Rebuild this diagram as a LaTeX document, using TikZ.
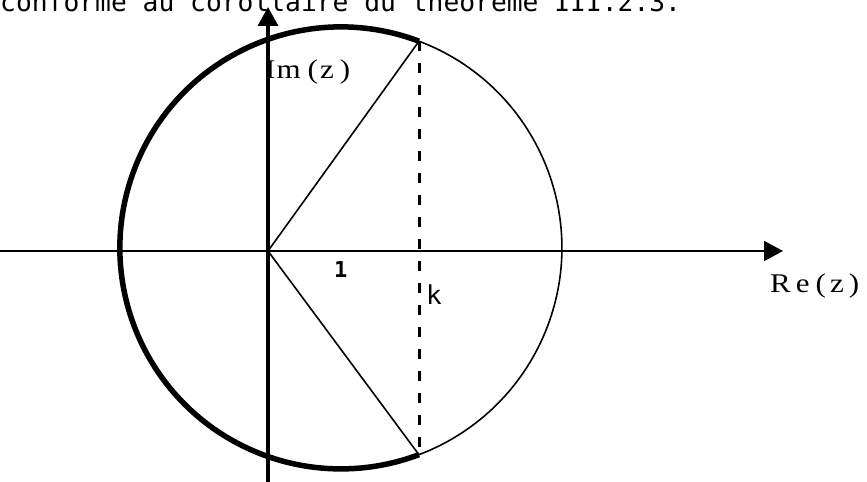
\documentclass[tikz,border=0pt]{standalone}
\usepackage{fontspec}
\usetikzlibrary{arrows.meta}
\newfontfamily\monofnt{DejaVu Sans Mono}
\newfontfamily\serfnt[FakeStretch=1.15]{Liberation Serif}
\begin{document}
\begin{tikzpicture}[x=1bp,y=-1bp,
  axis/.style={draw=black,-{Triangle[length=19bp,width=20bp]}},
  thinln/.style={draw=black,line width=1.6bp},
  thickarc/.style={draw=black,line width=5.5bp},
  dashline/.style={draw=black,line width=3bp,dash pattern=on 10bp off 12bp},
  lbl/.style={inner sep=0pt,anchor=base west}]
\useasboundingbox (0,0) rectangle (867,482);
\coordinate (O) at (268,251);
\coordinate (C) at (341,248);
\coordinate (P) at (419,41.2);
\coordinate (Q) at (419,454.8);
\coordinate (W) at (0,251);
\coordinate (E) at (783,251);
\coordinate (S) at (268,482);
\coordinate (N) at (268,7);
% circle
\draw[thinln] (P) arc[start angle=-69.3,end angle=69.3,radius=221];
\draw[thickarc] (P) arc[start angle=-69.3,end angle=-290.7,radius=221];
% axes
\draw[axis,line width=2bp] (W) -- (E);
\draw[axis,line width=3.5bp] (S) -- (N);
% rays
\draw[thinln] (O) -- (P);
\draw[thinln] (O) -- (Q);
\draw[dashline] (P) -- (Q);
% texts
\node[lbl] (title) at (0,12) {\monofnt\fontsize{26.3bp}{30bp}\selectfont conforme au corollaire du théorème III.2.3.};
\node[lbl] (im) at (265,79) {\serfnt\fontsize{27bp}{30bp}\selectfont I\hspace{1bp}m\hspace{7bp}(\hspace{2bp}z\hspace{6bp})};
\node[lbl] (re) at (770,293) {\serfnt\fontsize{27bp}{30bp}\selectfont R\hspace{5bp}e\hspace{6bp}(\hspace{4bp}z\hspace{5bp})};
\node[lbl] (k) at (426,305) {\monofnt\fontsize{26bp}{30bp}\selectfont k};
\node[lbl] (one) at (334,278) {\monofnt\bfseries\fontsize{22bp}{26bp}\selectfont 1};
\end{tikzpicture}
\end{document}
